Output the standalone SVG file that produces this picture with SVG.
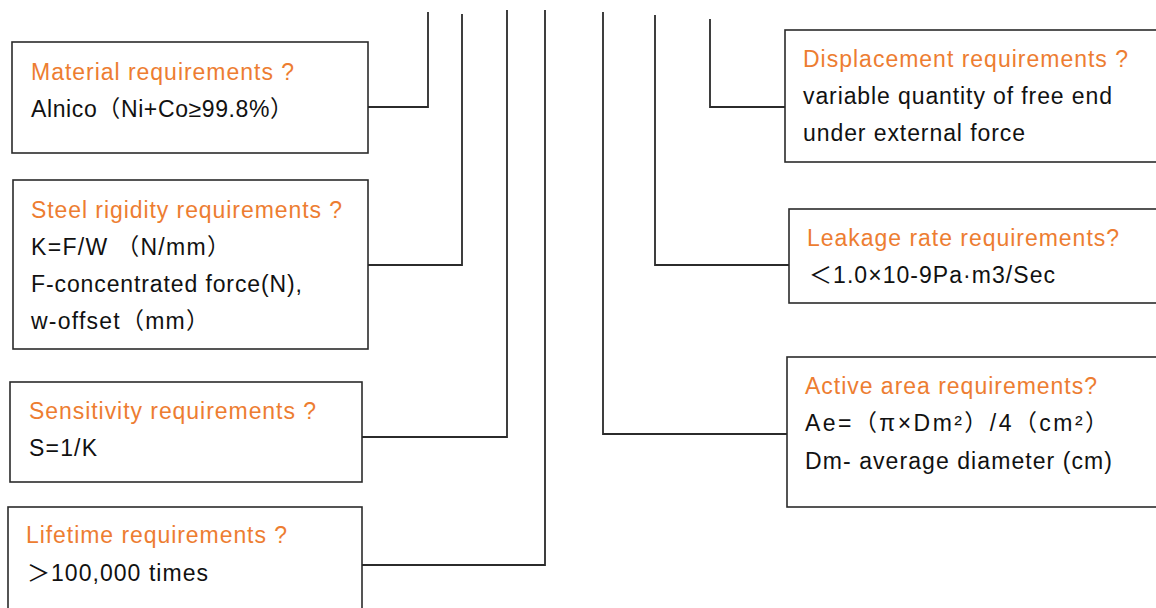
<svg xmlns="http://www.w3.org/2000/svg" width="1156" height="608" viewBox="0 0 1156 608">
<style>
.box{fill:#fff;stroke:#2b2b2b;stroke-width:1.6}
.t{font-family:"Liberation Sans",Arial,"Noto Sans CJK SC",sans-serif;font-size:23px}
.h{fill:#ED7D31}
.b{fill:#111}
.c{fill:none;stroke:#2b2b2b;stroke-width:1.8}
</style>
<rect width="1156" height="608" fill="#fff"/>
<g id="connectors">
<polyline class="c" points="368,107 428,107 428,12"/>
<polyline class="c" points="368,265 462,265 462,14"/>
<polyline class="c" points="362,437 507,437 507,10"/>
<polyline class="c" points="362,565 545,565 545,10"/>
<polyline class="c" points="787,434 603,434 603,12"/>
<polyline class="c" points="789,265 655,265 655,15"/>
<polyline class="c" points="785,107 710,107 710,19"/>
</g>
<g id="material">
<rect class="box" x="12" y="42" width="356" height="111"/>
<text class="t h" x="31" y="80" textLength="263" lengthAdjust="spacing">Material requirements ?</text>
<text class="t b" x="31" y="117" textLength="262" lengthAdjust="spacing">Alnico（Ni+Co≥99.8%）</text>
</g>
<g id="steel">
<rect class="box" x="13" y="180" width="355" height="169"/>
<text class="t h" x="31" y="218" textLength="311" lengthAdjust="spacing">Steel rigidity requirements ?</text>
<text class="t b" x="31" y="255" textLength="199" lengthAdjust="spacing">K=F/W （N/mm）</text>
<text class="t b" x="31" y="292" textLength="271" lengthAdjust="spacing">F-concentrated force(N),</text>
<text class="t b" x="31" y="329" textLength="178" lengthAdjust="spacing">w-offset（mm）</text>
</g>
<g id="sensitivity">
<rect class="box" x="10" y="382" width="352" height="100"/>
<text class="t h" x="29" y="419" textLength="287" lengthAdjust="spacing">Sensitivity requirements ?</text>
<text class="t b" x="29" y="456" textLength="68" lengthAdjust="spacing">S=1/K</text>
</g>
<g id="lifetime">
<rect class="box" x="8" y="507" width="354" height="110"/>
<text class="t h" x="26" y="543" textLength="261" lengthAdjust="spacing">Lifetime requirements ?</text>
<text class="t b" x="27" y="581" textLength="181" lengthAdjust="spacing">＞100,000 times</text>
</g>
<g id="displacement">
<rect class="box" x="785" y="30" width="380" height="132"/>
<text class="t h" x="803" y="67" textLength="325" lengthAdjust="spacing">Displacement requirements ?</text>
<text class="t b" x="803" y="104" textLength="309" lengthAdjust="spacing">variable quantity of free end</text>
<text class="t b" x="803" y="141" textLength="222" lengthAdjust="spacing">under external force</text>
</g>
<g id="leakage">
<rect class="box" x="789" y="209" width="376" height="94"/>
<text class="t h" x="807" y="246" textLength="312" lengthAdjust="spacing">Leakage rate requirements?</text>
<text class="t b" x="809" y="283" textLength="246" lengthAdjust="spacing">＜1.0×10-9Pa·m3/Sec</text>
</g>
<g id="active">
<rect class="box" x="787" y="357" width="378" height="150"/>
<text class="t h" x="805" y="394" textLength="292" lengthAdjust="spacing">Active area requirements?</text>
<text class="t b" x="805" y="431" textLength="303" lengthAdjust="spacing">Ae=（π×Dm²）/4（cm²）</text>
<text class="t b" x="805" y="469" textLength="307" lengthAdjust="spacing">Dm- average diameter (cm)</text>
</g>
</svg>
